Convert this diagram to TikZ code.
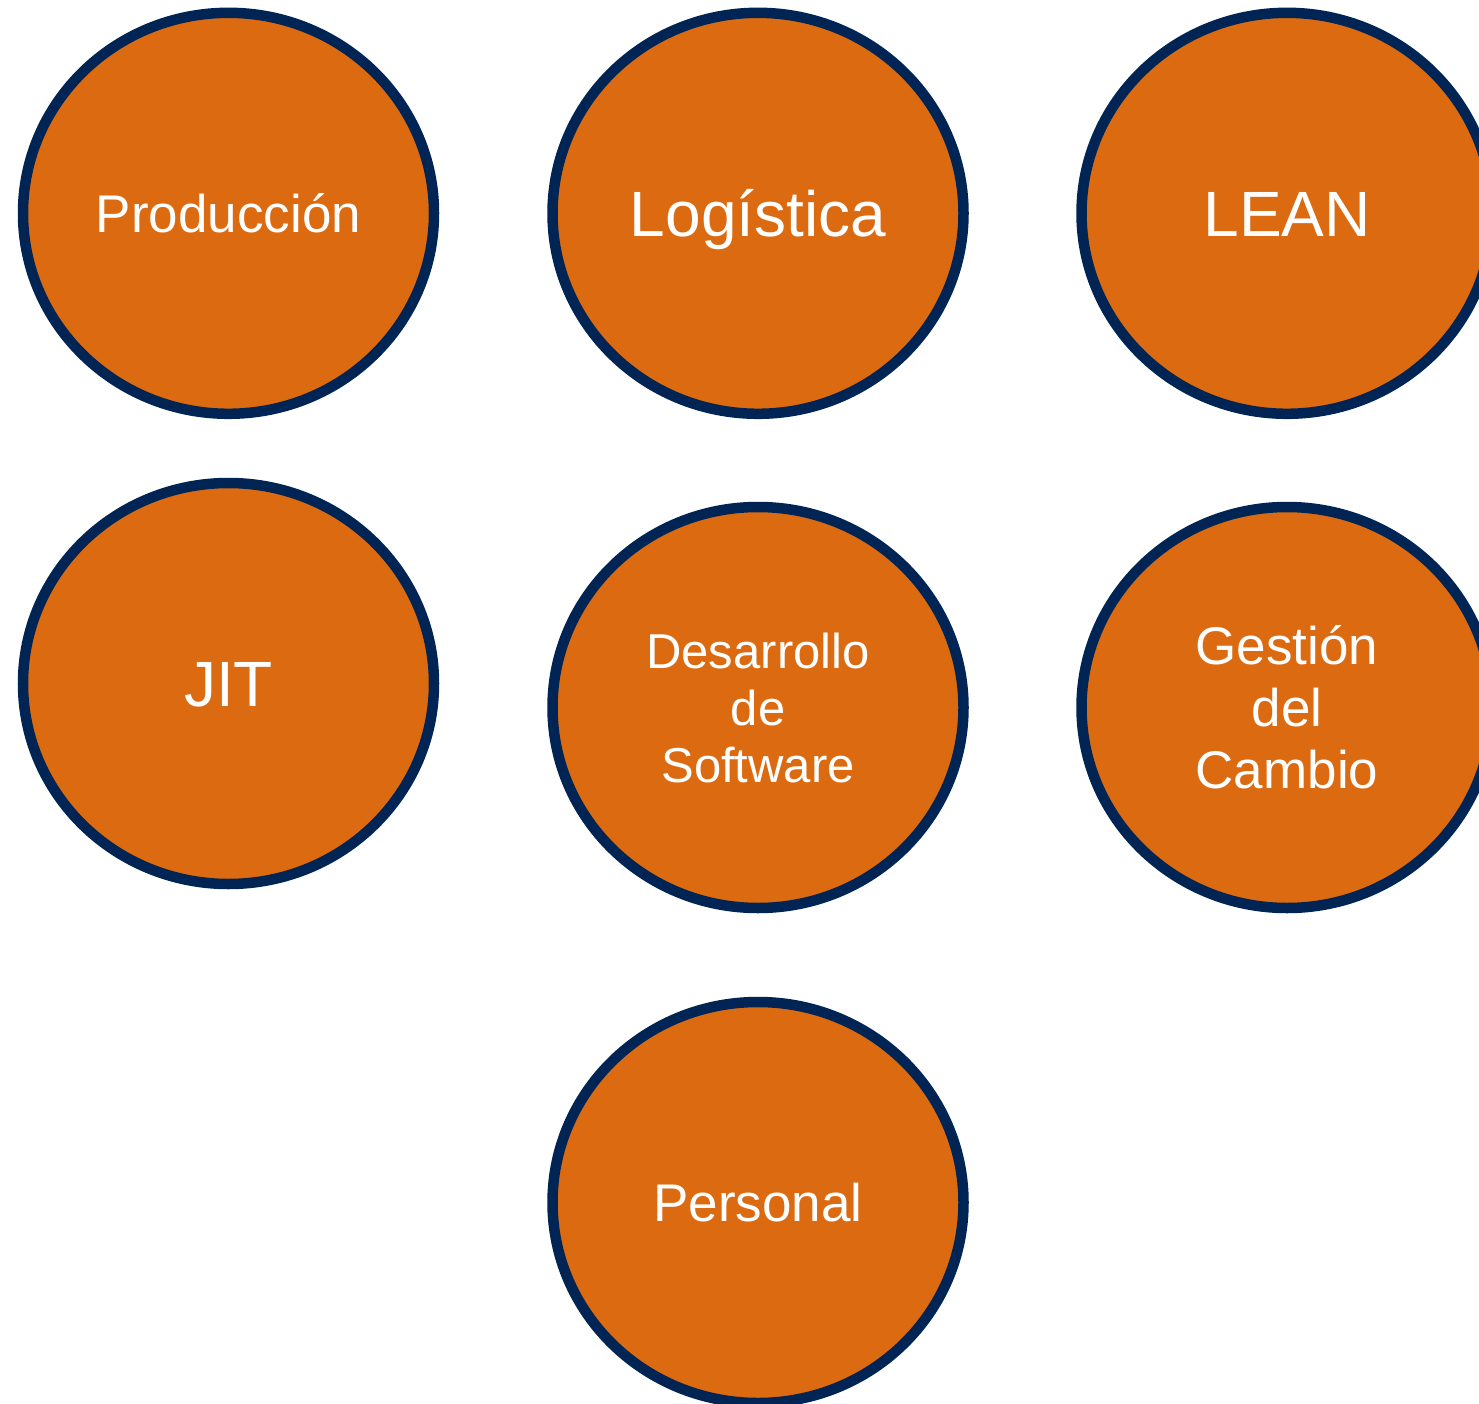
\documentclass[tikz,border=0pt]{standalone}
\usepackage{fontspec}
\setmainfont{Liberation Sans}
\usetikzlibrary{shapes.geometric}
\definecolor{orangefill}{RGB}{220,106,17}
\definecolor{navyline}{RGB}{0,37,84}
\begin{document}
\begin{tikzpicture}[x=1pt,y=-1pt,
  bubble/.style={ellipse, draw=navyline, fill=orangefill, line width=10.5pt,
    minimum width=411pt, minimum height=401pt, inner sep=0pt, text=white, align=center},
  fs53/.style={font=\fontsize{53}{62}\selectfont},
  fs64/.style={font=\fontsize{64}{72}\selectfont},
  fs49/.style={font=\fontsize{49}{57}\selectfont},
  cap53/.style={fs53, text height=38pt, text depth=0pt},
  cap64/.style={fs64, text height=45.8pt, text depth=0pt}]
\useasboundingbox (0,0) rectangle (1479,1404);
\clip (0,0) rectangle (1479,1404);
\node[bubble, cap53] (prod) at (228.5,213.3) {Producción};
\node[bubble, cap64] (log) at (758,213.3) {Logística};
\node[bubble, cap64] (lean) at (1287,213.3) {LEAN};
\node[bubble, cap64] (jit) at (228.5,683.5) {JIT};
\node[bubble, fs49] (des) at (758,707.5) {Desarrollo\\de\\Software};
\node[bubble, fs53] (ges) at (1287,707.5) {Gestión\\del\\Cambio};
\node[bubble, cap53] (per) at (758,1202.5) {Personal};
\end{tikzpicture}
\end{document}
